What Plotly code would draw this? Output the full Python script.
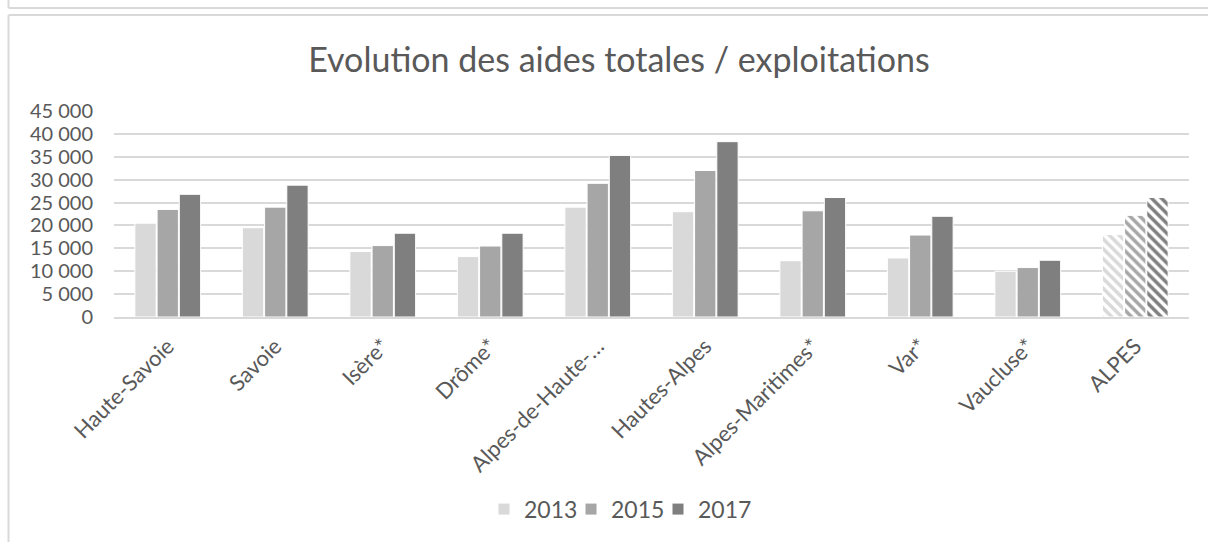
import plotly.graph_objects as go

# ── data ──────────────────────────────────────────────────────────────────────

categories = [
    "Haute-Savoie", "Savoie", "Isère*", "Drôme*", "Alpes-de-Haute-…",
    "Hautes-Alpes", "Alpes-Maritimes*", "Var*", "Vaucluse*", "ALPES",
]
years = ["2013", "2015", "2017"]
values_2013 = [20500, 19500, 14300, 13200, 24000, 23000, 12300, 12900, 10000, 18000]
values_2015 = [23500, 24000, 15600, 15500, 29200, 32000, 23200, 17900, 10800, 22200]
values_2017 = [26800, 28800, 18300, 18300, 35300, 38300, 26100, 22000, 12400, 26100]
y_ticks = [0, 5000, 10000, 15000, 20000, 25000, 30000, 35000, 40000, 45000]

colors = ["#d9d9d9", "#a6a6a6", "#7f7f7f"]
font_family = "Lato, 'Open Sans', sans-serif"
text_color = "#595959"
frame_color = "#d9d9d9"

# ── figure ────────────────────────────────────────────────────────────────────

W, H = 1208, 542
ML, MR, MT, MB = 114, 19, 111, 223
plot_w = W - ML - MR
plot_h = H - MT - MB


def px_x(x):
    return (x - ML) / plot_w


def px_y(y):
    return (H - MB - y) / plot_h


fig = go.Figure()

# the last category (ALPES) is drawn hatched
shapes = [""] * (len(categories) - 1) + ["\\"]

for year, vals, col in zip(years, [values_2013, values_2015, values_2017], colors):
    fig.add_trace(
        go.Bar(
            x=categories,
            y=vals,
            name=year,
            marker=dict(
                color=col,
                line=dict(color="white", width=1),
                pattern=dict(
                    shape=shapes,
                    fillmode="replace",
                    size=7,
                    solidity=0.5,
                    bgcolor="white",
                ),
            ),
        )
    )

# empty spacer entry (not a bar, so groups keep 3 slots) so the tight
# legend does not clip the last label
fig.add_trace(
    go.Scatter(
        x=[None], y=[None], name="", mode="markers", hoverinfo="skip",
        marker=dict(color="rgba(0,0,0,0)", size=1),
    )
)

# frame lines of the surrounding document boxes
line = dict(color=frame_color, width=2)
frame = [
    dict(x0=px_x(8.5), x1=px_x(1212), y0=px_y(7), y1=px_y(7)),
    dict(x0=px_x(8.5), x1=px_x(8.5), y0=px_y(-3), y1=px_y(7)),
    dict(x0=px_x(8.5), x1=px_x(1212), y0=px_y(14), y1=px_y(14)),
    dict(x0=px_x(8.5), x1=px_x(8.5), y0=px_y(14), y1=px_y(550)),
]
fig.update_layout(
    shapes=[
        dict(type="line", xref="paper", yref="paper", line=line, layer="below", **f)
        for f in frame
    ]
)

fig.update_layout(
    width=W,
    height=H,
    paper_bgcolor="white",
    plot_bgcolor="white",
    separators=", ",
    barmode="group",
    bargap=0.38,
    bargroupgap=0.04,
    font=dict(family=font_family, size=20, color=text_color),
    title=dict(
        text="Evolution des aides totales / exploitations",
        font=dict(family=font_family, size=34, color=text_color),
        x=619 / W,
        xanchor="center",
        xref="container",
        y=1 - 60 / H,
        yanchor="middle",
    ),
    margin=dict(l=ML, r=MR, t=MT, b=MB),
    legend=dict(
        orientation="h",
        x=px_x(484),
        xanchor="left",
        y=px_y(513),
        yanchor="middle",
        font=dict(size=23, color=text_color),
        itemwidth=30,
        entrywidth=42,
        entrywidthmode="pixels",
        traceorder="normal",
    ),
    xaxis=dict(
        tickangle=-45,
        showgrid=False,
        showline=True,
        linecolor=frame_color,
        linewidth=1.5,
        ticks="",
        tickfont=dict(size=22, color=text_color),
        ticklabelstandoff=6,
    ),
    yaxis=dict(
        range=[0, 45000],
        tickvals=y_ticks,
        tickformat=",d",
        showgrid=True,
        gridcolor=frame_color,
        gridwidth=1.5,
        zeroline=False,
        ticks="",
        tickfont=dict(size=20, color=text_color),
        ticklabelstandoff=20,
    ),
)

# the page body has a default 8px margin; remove it so pixels line up
fig.write_html(
    "out.html",
    config={"displayModeBar": False},
    post_script="document.body.style.margin='0';",
)
